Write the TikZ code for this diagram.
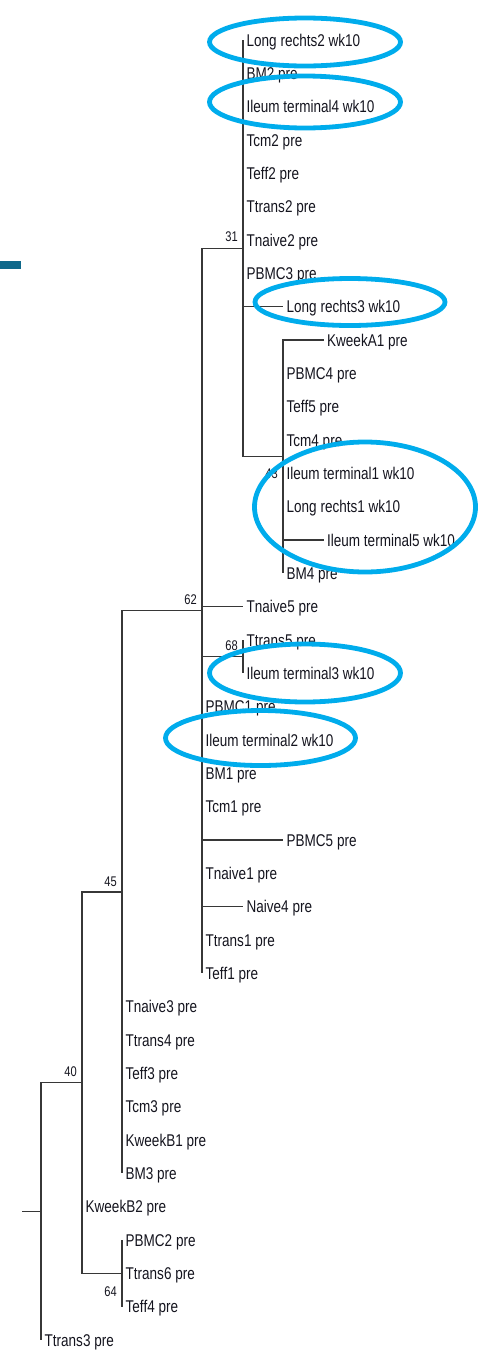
\documentclass[tikz,border=0pt]{standalone}
\usepackage{fontspec}
\newfontfamily\lab{Liberation Sans}[FakeStretch=0.795]
\usetikzlibrary{shapes.geometric}
\definecolor{treeline}{RGB}{55,55,55}
\definecolor{txt}{RGB}{20,20,30}
\definecolor{hlblue}{RGB}{0,172,236}
\definecolor{tealbar}{RGB}{14,104,138}
\tikzset{
  leaf/.style={anchor=west, inner xsep=3.5pt, inner ysep=0pt, text height=12.4pt, text depth=0pt,
    font={\lab\fontsize{17pt}{17pt}\selectfont}, text=txt},
  bsval/.style={inner sep=0pt, font={\lab\fontsize{14pt}{14pt}\selectfont}, text=txt},
  br/.style={draw=treeline, line width=1.3pt},
  hl/.style={ellipse, draw=hlblue, line width=4.8pt, inner sep=0pt}
}
\begin{document}
\begin{tikzpicture}[x=1pt,y=-1pt]
\useasboundingbox (0,0) rectangle (479,1350);
% leaves
\foreach \i/\x/\t in {
 1/243/Long rechts2 wk10, 2/243/BM2 pre, 3/243/Ileum terminal4 wk10, 4/243/Tcm2 pre,
 5/243/Teff2 pre, 6/243/Ttrans2 pre, 7/243/Tnaive2 pre, 8/243/PBMC3 pre,
 9/283/Long rechts3 wk10, 10/323.5/KweekA1 pre, 11/283/PBMC4 pre, 12/283/Teff5 pre,
 13/283/Tcm4 pre, 14/283/Ileum terminal1 wk10, 15/283/Long rechts1 wk10,
 16/323.5/Ileum terminal5 wk10, 17/283/BM4 pre, 18/243/Tnaive5 pre, 19/243/Ttrans5 pre,
 20/243/Ileum terminal3 wk10, 21/202/PBMC1 pre, 22/202/Ileum terminal2 wk10,
 23/202/BM1 pre, 24/202/Tcm1 pre, 25/283/PBMC5 pre, 26/202/Tnaive1 pre,
 27/243/Naive4 pre, 28/202/Ttrans1 pre, 29/202/Teff1 pre, 30/122/Tnaive3 pre,
 31/122/Ttrans4 pre, 32/122/Teff3 pre, 33/122/Tcm3 pre, 34/122/KweekB1 pre,
 35/122/BM3 pre, 36/82/KweekB2 pre, 37/122/PBMC2 pre, 38/122/Ttrans6 pre,
 39/122/Teff4 pre, 40/41/Ttrans3 pre}
 {\node[leaf] (l\i) at (\x,{40+(\i-1)*33.3333}) {\t};}
% internal nodes
\coordinate (n43) at (283,456.67);
\coordinate (n31) at (243,248.33);
\coordinate (n68) at (243,656.67);
\coordinate (n62) at (202,610.83);
\coordinate (n45) at (122,892.08);
\coordinate (n64) at (122,1273.33);
\coordinate (n40) at (82,1082.7);
\coordinate (root) at (41,1211.35);
\coordinate (stub) at (22,1211.35);
% branches
\foreach \c in {1,...,9} {\draw[br] (n31) |- (l\c.west);}
\draw[br] (n31) |- (n43);
\foreach \c in {10,...,17} {\draw[br] (n43) |- (l\c.west);}
\draw[br] (n62) |- (n31);
\draw[br] (n62) |- (n68);
\foreach \c in {19,20} {\draw[br] (n68) |- (l\c.west);}
\foreach \c in {18,21,22,23,24,25,26,27,28,29} {\draw[br] (n62) |- (l\c.west);}
\draw[br] (n45) |- (n62);
\foreach \c in {30,...,35} {\draw[br] (n45) |- (l\c.west);}
\draw[br] (n40) |- (n45);
\draw[br] (n40) |- (n64);
\draw[br] (n40) |- (l36.west);
\foreach \c in {37,38,39} {\draw[br] (n64) |- (l\c.west);}
\draw[br] (root) |- (n40);
\draw[br] (root) |- (l40.west);
\draw[br] (stub) -- (root);
% bootstrap values
\node[bsval, anchor=base east] (b31) at (238,241.8) {31};
\node[bsval, anchor=base east] (b62) at (197,604.3) {62};
\node[bsval, anchor=base east] (b68) at (238,650.2) {68};
\node[bsval, anchor=base east] (b45) at (117,886.5) {45};
\node[bsval, anchor=base east] (b40) at (77,1076.7) {40};
\node[bsval, anchor=base east] (b43) at (278,478.2) {43};
\node[bsval, anchor=base east] (b64) at (117,1296.8) {64};
% highlight ellipses
\node[hl, minimum width=191pt, minimum height=48pt] (e1) at (305,42) {};
\node[hl, minimum width=191pt, minimum height=52pt] (e2) at (305,102) {};
\node[hl, minimum width=190pt, minimum height=47pt] (e3) at (350,302) {};
\node[hl, minimum width=221pt, minimum height=130pt] (e4) at (365,507) {};
\node[hl, minimum width=191pt, minimum height=58pt] (e5) at (305,673) {};
\node[hl, minimum width=190pt, minimum height=55pt] (e6) at (260.5,738) {};
% teal bar
\node[fill=tealbar, inner sep=0pt, minimum width=21pt, minimum height=7.5pt, anchor=north west] (bar) at (0,261) {};
\end{tikzpicture}
\end{document}
